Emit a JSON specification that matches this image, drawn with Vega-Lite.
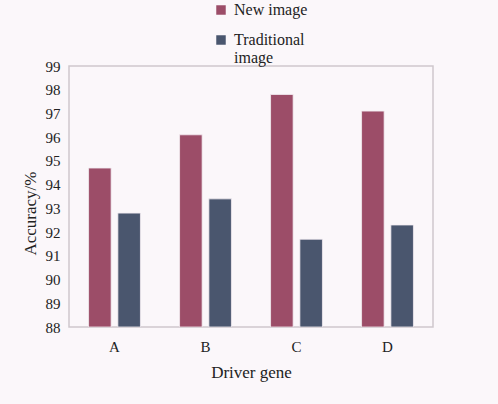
{
  "$schema": "https://vega.github.io/schema/vega-lite/v6.json",
  "width": 364,
  "height": 261,
  "autosize": {"type": "none"},
  "padding": {"left": 69, "top": 66, "right": 65, "bottom": 77},
  "background": "#fbf7fa",
  "data": {
    "values": [
      {"gene": "A", "method": "New image", "accuracy": 94.7},
      {"gene": "A", "method": "Traditional image", "accuracy": 92.8},
      {"gene": "B", "method": "New image", "accuracy": 96.1},
      {"gene": "B", "method": "Traditional image", "accuracy": 93.4},
      {"gene": "C", "method": "New image", "accuracy": 97.8},
      {"gene": "C", "method": "Traditional image", "accuracy": 91.7},
      {"gene": "D", "method": "New image", "accuracy": 97.1},
      {"gene": "D", "method": "Traditional image", "accuracy": 92.3}
    ]
  },
  "mark": {"type": "bar", "stroke": "#f4eef2", "strokeWidth": 0.8, "clip": true},
  "encoding": {
    "x": {
      "field": "gene",
      "type": "nominal",
      "title": "Driver gene",
      "scale": {"paddingInner": 0.43, "paddingOuter": 0.215},
      "axis": {
        "labelAngle": 0,
        "labelFont": "Liberation Serif",
        "labelFontSize": 15,
        "labelColor": "#222222",
        "labelPadding": 12,
        "ticks": false,
        "domain": false,
        "titleFont": "Liberation Serif",
        "titleFontSize": 17,
        "titleFontWeight": "normal",
        "titleColor": "#222222",
        "titlePadding": 10
      }
    },
    "xOffset": {"field": "method", "type": "nominal", "scale": {"paddingInner": 0.23}},
    "y": {
      "field": "accuracy",
      "type": "quantitative",
      "title": "Accuracy/%",
      "scale": {"domain": [88, 99], "nice": false, "zero": false},
      "axis": {
        "values": [88, 89, 90, 91, 92, 93, 94, 95, 96, 97, 98, 99],
        "grid": false,
        "ticks": false,
        "domain": false,
        "labelFont": "Liberation Serif",
        "labelFontSize": 15,
        "labelColor": "#222222",
        "labelPadding": 9,
        "titleFont": "Liberation Serif",
        "titleFontSize": 17,
        "titleFontWeight": "normal",
        "titleColor": "#222222",
        "titlePadding": 6,
        "titleY": 147
      }
    },
    "y2": {"datum": 88},
    "color": {
      "field": "method",
      "type": "nominal",
      "scale": {"domain": ["New image", "Traditional image"], "range": ["#9c4d68", "#4a566e"]},
      "legend": {
        "title": null,
        "orient": "none",
        "legendX": 144,
        "legendY": -64,
        "symbolType": "square",
        "symbolSize": 90,
        "symbolStrokeWidth": 0,
        "labelFont": "Liberation Serif",
        "labelFontSize": 16,
        "labelColor": "#222222",
        "labelLimit": 200,
        "rowPadding": 14,
        "labelOffset": 5,
        "labelBaseline": "middle",
        "labelExpr": "datum.label == 'Traditional image' ? ['Traditional', 'image'] : datum.label"
      }
    }
  },
  "config": {
    "font": "Liberation Serif",
    "view": {"stroke": "#cfc8cd", "strokeWidth": 1.5}
  }
}
